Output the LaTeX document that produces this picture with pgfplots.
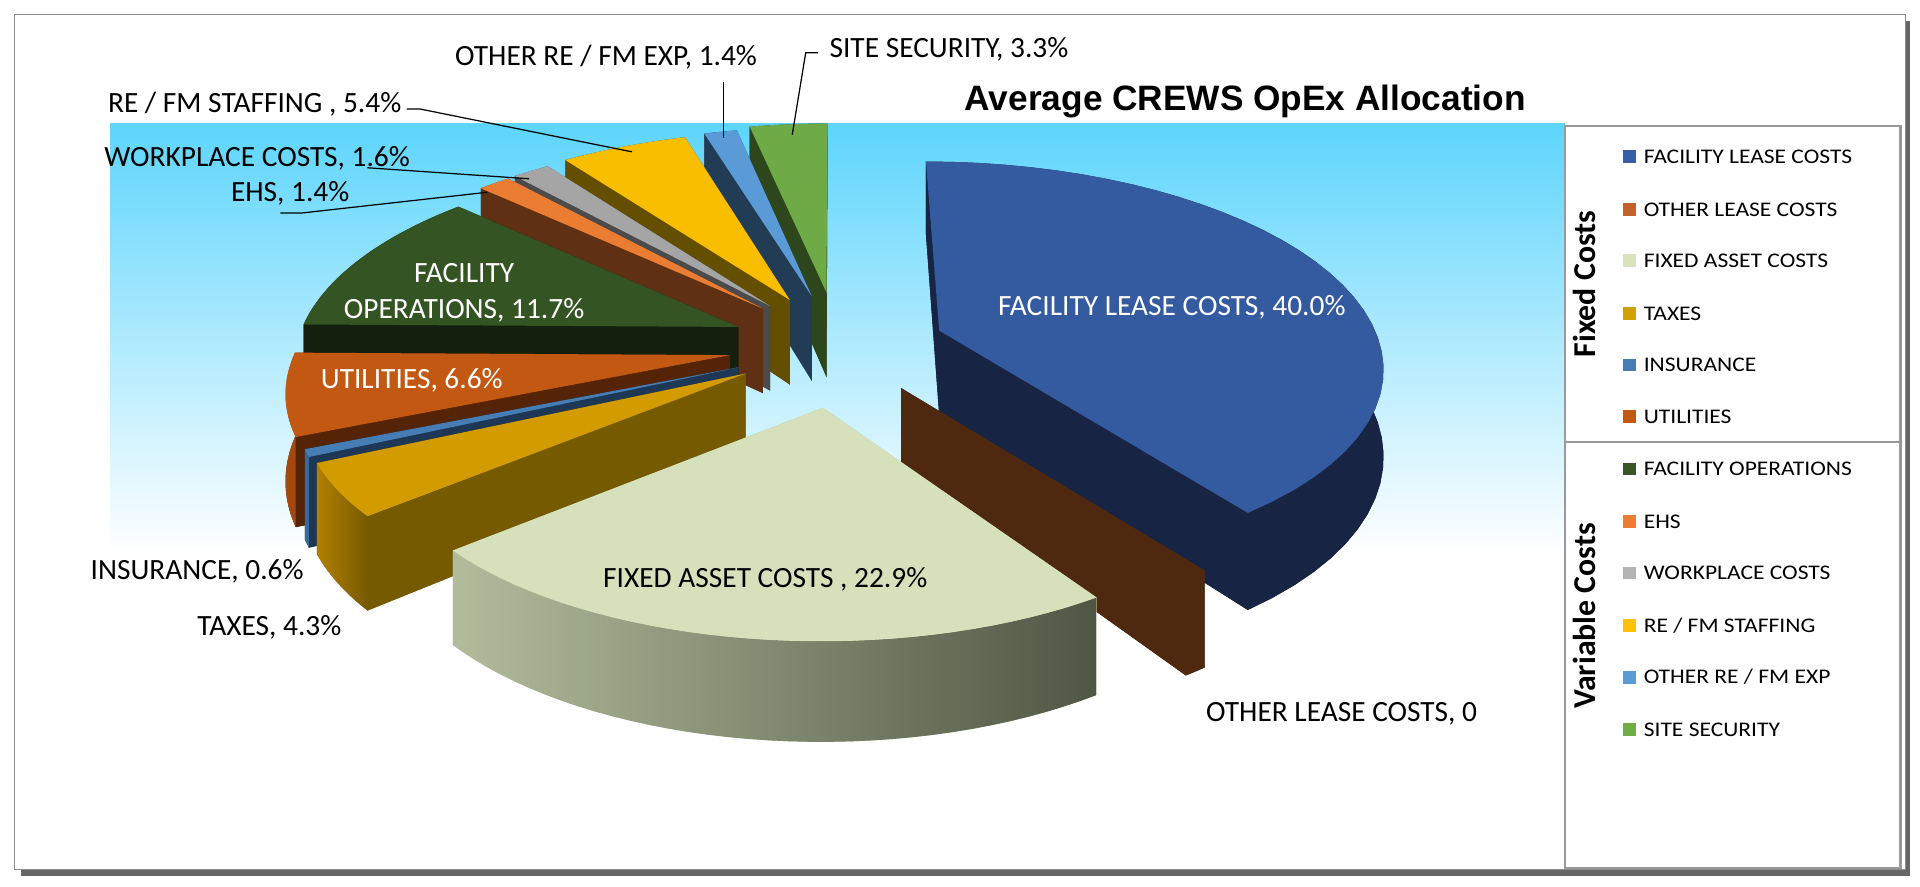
\documentclass[border=0pt]{standalone}
\usepackage{pgfplots}
\pgfplotsset{compat=1.18}
\usepackage{pgfplotstable}
\usepackage{fontspec}
\setmainfont{Carlito}
\newfontfamily\titlefont{Liberation Sans}
\newfontfamily\legfont{Carlito}[FakeStretch=1.13]

% slice colours: top face (T), radial walls (S), outer wall (B)
\definecolor{FLT}{RGB}{52,90,160}   \definecolor{FLS}{RGB}{24,36,68}
\definecolor{OLS}{RGB}{78,40,15}
\definecolor{FAT}{RGB}{214,225,188} \definecolor{FASL}{RGB}{178,188,155}\definecolor{FASR}{RGB}{80,86,68}
\definecolor{TXT}{RGB}{210,155,0}   \definecolor{TXS}{RGB}{118,90,0}  \definecolor{TXB}{RGB}{178,128,0}
\definecolor{INT}{RGB}{70,125,180}  \definecolor{INS}{RGB}{30,55,85}  \definecolor{INB}{RGB}{55,105,155}
\definecolor{UTT}{RGB}{195,88,18}   \definecolor{UTS}{RGB}{85,35,5}   \definecolor{UTB}{RGB}{165,72,14}
\definecolor{FOT}{RGB}{53,84,35}    \definecolor{FOS}{RGB}{20,32,13}
\definecolor{EHT}{RGB}{235,125,50}  \definecolor{EHS}{RGB}{95,48,20}
\definecolor{WPT}{RGB}{165,165,165} \definecolor{WPS}{RGB}{75,75,75}
\definecolor{STT}{RGB}{250,190,0}   \definecolor{STS}{RGB}{100,78,0}
\definecolor{ORT}{RGB}{90,155,215}  \definecolor{ORS}{RGB}{35,60,85}
\definecolor{SST}{RGB}{110,170,70}  \definecolor{SSS}{RGB}{45,70,28}
% legend keys
\definecolor{LFL}{RGB}{55,95,165}  \definecolor{LOL}{RGB}{195,98,45}
\definecolor{LFA}{RGB}{214,227,188}\definecolor{LTX}{RGB}{210,160,0}
\definecolor{LIN}{RGB}{70,125,180} \definecolor{LUT}{RGB}{195,88,18}
\definecolor{LFO}{RGB}{55,86,35}   \definecolor{LEH}{RGB}{237,125,49}
\definecolor{LWP}{RGB}{180,180,180}\definecolor{LST}{RGB}{255,192,0}
\definecolor{LOR}{RGB}{91,155,213} \definecolor{LSS}{RGB}{112,173,71}
\definecolor{bgtop}{RGB}{93,213,252}

% pie data (percent) with the position of each exploded slice's apex
\pgfplotstableread{
name value vx vy
FL 40.0 767 270
OL 0.8 736 317
FA 22.9 672 333
TX 4.3 609 305
IN 0.6 603 300
UT 6.6 596 290
FO 11.7 603 267
EH 1.4 623 252
WP 1.6 629 250
ST 5.4 645 245
OR 1.4 663 242
SS 3.3 675 239
}\pietable

% projection parameters
\def\R{356}\def\bb{0.45}\def\kk{0.16}\def\hh{69}\def\NN{36}
\def\xo{680}\def\lean{0.0009}

\newcommand\buildslice[5]{%
  \gdef\Lt{}\gdef\Lb{}\gdef\Lbr{}%
  \foreach \i in {0,...,\NN}{%
    \pgfmathsetmacro\Th{#2+(#3-#2)*\i/\NN}%
    \pgfmathsetmacro\Sc{1/(1+\kk*cos(\Th))}%
    \pgfmathsetmacro\dy{\R*\bb*cos(\Th)*\Sc}%
    \pgfmathsetmacro\px{#4+\R*sin(\Th)*\Sc-(#4-\xo)*\lean*\dy}%
    \pgfmathsetmacro\py{#5-\dy}%
    \pgfmathsetmacro\pyb{\py+\hh*\Sc}%
    \xdef\Lt{\Lt(\px,\py)}%
    \xdef\Lb{\Lb(\px,\pyb)}%
    \xdef\Lbr{(\px,\pyb)\Lbr}%
    \ifnum\i=0 \xdef\PA{(\px,\py)(\px,\pyb)}\fi
    \ifnum\i=\NN\relax \xdef\PB{(\px,\py)(\px,\pyb)}\fi
  }%
  \pgfmathsetmacro\vyb{#5+\hh}%
  \expandafter\xdef\csname top#1\endcsname{(#4,#5)\Lt(#4,#5)}%
  \expandafter\xdef\csname bot#1\endcsname{(#4,\vyb)\Lb(#4,\vyb)}%
  \expandafter\xdef\csname band#1\endcsname{\Lt\Lbr}%
  \expandafter\xdef\csname wa#1\endcsname{(#4,#5)\PA(#4,\vyb)}%
  \expandafter\xdef\csname wb#1\endcsname{(#4,#5)\PB(#4,\vyb)}%
}

% #1 name, #2 top style, #3 radial wall style, #4 outer wall style
\newcommand\drawslice[4]{%
  \edef\tmp{\noexpand\addplot[#3,draw=none] coordinates {\csname wa#1\endcsname};}\tmp
  \edef\tmp{\noexpand\addplot[#3,draw=none] coordinates {\csname wb#1\endcsname};}\tmp
  \edef\tmp{\noexpand\addplot[#3,draw=none] coordinates {\csname bot#1\endcsname};}\tmp
  \edef\tmp{\noexpand\addplot[#4,draw=none] coordinates {\csname band#1\endcsname};}\tmp
  \edef\tmp{\noexpand\addplot[#2,draw=none] coordinates {\csname top#1\endcsname};}\tmp
}

\newcommand\legkey[3]{%
  \addplot[only marks, mark=square*, mark size=2.4pt, color=#1] coordinates {(1331,#2)};
  \node[anchor=west, font=\legfont\fontsize{8.5}{10}\selectfont, inner sep=0pt] at (axis cs:1342,#2) {#3};
}

\begin{document}
\pgfplotstablegetrowsof{\pietable}%
\pgfmathtruncatemacro\nrows{\pgfplotsretval-1}%
\gdef\cum{0}%
\foreach \r in {0,...,\nrows}{%
  \pgfplotstablegetelem{\r}{name}\of\pietable \edef\nm{\pgfplotsretval}%
  \pgfplotstablegetelem{\r}{value}\of\pietable \edef\val{\pgfplotsretval}%
  \pgfplotstablegetelem{\r}{vx}\of\pietable \edef\vx{\pgfplotsretval}%
  \pgfplotstablegetelem{\r}{vy}\of\pietable \edef\vy{\pgfplotsretval}%
  \pgfmathsetmacro\ta{\cum*3.6}%
  \pgfmathsetmacro\tb{(\cum+\val)*3.6}%
  \buildslice{\nm}{\ta}{\tb}{\vx}{\vy}%
  \pgfmathsetmacro\newcum{\cum+\val}\xdef\cum{\newcum}%
}%
\begin{tikzpicture}
\begin{axis}[
  scale only axis, width=784pt, height=362pt,
  xmin=0, xmax=1568, ymin=0, ymax=724, y dir=reverse,
  hide axis, clip=false]
% page background and frame
\fill[white] (axis cs:0,0) rectangle (axis cs:1568,724);
\fill[black!60] (axis cs:17,710) rectangle (axis cs:1560,715);
\fill[black!60] (axis cs:1556,17) rectangle (axis cs:1560,715);
\draw[black!45, line width=0.6pt] (axis cs:12,12) rectangle (axis cs:1556,710);
% plot area gradient
\fill[top color=bgtop, bottom color=white] (axis cs:90,101) rectangle (axis cs:1278,452);

% slices, back to front
\drawslice{SS}{fill=SST}{fill=SSS}{fill=SSS}
\drawslice{OR}{fill=ORT}{fill=ORS}{fill=ORS}
\drawslice{ST}{fill=STT}{fill=STS}{fill=STS}
\drawslice{WP}{fill=WPT}{fill=WPS}{fill=WPS}
\drawslice{EH}{fill=EHT}{fill=EHS}{fill=EHS}
\drawslice{FO}{fill=FOT}{fill=FOS}{fill=FOS}
\drawslice{UT}{fill=UTT}{fill=UTS}{fill=UTB}
\drawslice{IN}{fill=INT}{fill=INS}{fill=INB}
\drawslice{TX}{fill=TXT}{fill=TXS}{left color=TXB,right color=TXS}
\drawslice{FL}{fill=FLT}{fill=FLS}{fill=FLS}
\drawslice{OL}{fill=OLS}{fill=OLS}{fill=OLS}
\drawslice{FA}{fill=FAT}{fill=FASL}{left color=FASL,right color=FASR}

% data labels
\begin{scope}[font=\fontsize{12}{14.5}\selectfont]
\node[text=white] at (axis cs:957,251) {FACILITY LEASE COSTS, 40.0\%};
\node[text=black] at (axis cs:625,473) {FIXED ASSET COSTS , 22.9\%};
\node[text=black, anchor=west] at (axis cs:978,583) {OTHER LEASE COSTS, 0};
\node[text=white, align=center] at (axis cs:379,239) {FACILITY\\OPERATIONS, 11.7\%};
\node[text=white, anchor=west] at (axis cs:255,311) {UTILITIES, 6.6\%};
\node[text=black] at (axis cs:161,467) {INSURANCE, 0.6\%};
\node[text=black] at (axis cs:220,512) {TAXES, 4.3\%};
\node[text=black] at (axis cs:237,158) {EHS, 1.4\%};
\node[text=black] at (axis cs:210,129) {WORKPLACE COSTS, 1.6\%};
\node[text=black] at (axis cs:208,85) {RE / FM STAFFING , 5.4\%};
\node[text=black] at (axis cs:495,47) {OTHER RE / FM EXP, 1.4\%};
\node[text=black] at (axis cs:775,40) {SITE SECURITY, 3.3\%};
\end{scope}
% leader lines
\addplot[black, line width=0.5pt] coordinates {(229,174)(246,174)(398,157)};
\addplot[black, line width=0.5pt] coordinates {(300,137)(432,146)};
\addplot[black, line width=0.5pt] coordinates {(332,89)(343,89)(516,124)};
\addplot[black, line width=0.5pt] coordinates {(591,67)(591,113)};
\addplot[black, line width=0.5pt] coordinates {(668,43)(658,43)(647,110)};

% title
\node[font=\titlefont\bfseries\fontsize{14.4}{17}\selectfont] at (axis cs:1017,83) {Average CREWS OpEx Allocation};

% legend
\draw[black!40, line width=1pt] (axis cs:1278,103) rectangle (axis cs:1552,709);
\draw[black!40, line width=1pt] (axis cs:1278,361) -- (axis cs:1552,361);
\node[rotate=90, font=\bfseries\fontsize{13}{15}\selectfont] at (axis cs:1294,232) {Fixed Costs};
\node[rotate=90, font=\bfseries\fontsize{13}{15}\selectfont] at (axis cs:1294,503) {Variable Costs};
\legkey{LFL}{128}{FACILITY LEASE COSTS}
\legkey{LOL}{171}{OTHER LEASE COSTS}
\legkey{LFA}{213}{FIXED ASSET COSTS}
\legkey{LTX}{256}{TAXES}
\legkey{LIN}{298}{INSURANCE}
\legkey{LUT}{340}{UTILITIES}
\legkey{LFO}{383}{FACILITY OPERATIONS}
\legkey{LEH}{426}{EHS}
\legkey{LWP}{468}{WORKPLACE COSTS}
\legkey{LST}{511}{RE / FM STAFFING}
\legkey{LOR}{553}{OTHER RE / FM EXP}
\legkey{LSS}{596}{SITE SECURITY}
\end{axis}
\end{tikzpicture}
\end{document}
